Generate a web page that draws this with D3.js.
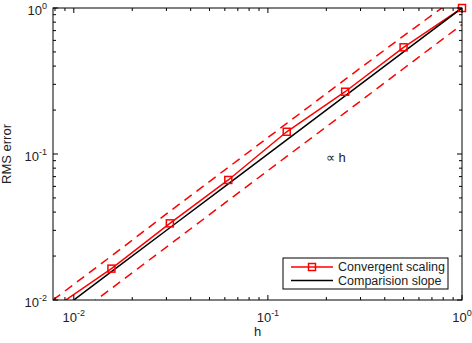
<!DOCTYPE html>
<html>
<head>
<meta charset="utf-8">
<script src="https://cdn.jsdelivr.net/npm/d3@7"></script>
<style>
  body { margin: 0; background: #fff; }
  text { font-family: "Liberation Sans", Arial, Helvetica, sans-serif; }
</style>
</head>
<body>
<div id="chart"></div>
<script>
// grid spacing h and measured values
const hValues = [1/128, 1/64, 1/32, 1/16, 1/8, 1/4, 1/2, 1];
const rmsError = [0.0087, 0.0164, 0.0335, 0.0664, 0.142, 0.267, 0.538, 1.0];
const upperBound = [0.0100, 0.0200, 0.0405, 0.081, 0.162, 0.324, 0.645, 1.26];
const lowerBound = [0.0060, 0.0120, 0.0240, 0.0481, 0.0962, 0.192, 0.385, 0.77];
const slopeRef = [1/128, 1/64, 1/32, 1/16, 1/8, 1/4, 1/2, 1];
const markerIdx = [1, 2, 3, 4, 5, 6, 7];
const decadeTicks = [0.01, 0.1, 1];
const decadeExp = ["-2", "-1", "0"];
const legendLabels = ["Convergent scaling", "Comparision slope"];

const W = 472, H = 343;
const margin = { top: 8, right: 10, bottom: 43, left: 53 };
const iw = W - margin.left - margin.right, ih = H - margin.top - margin.bottom;

const svg = d3.select("#chart").append("svg").attr("width", W).attr("height", H);
svg.append("defs").append("clipPath").attr("id", "clip")
  .append("rect").attr("width", iw).attr("height", ih);
const g = svg.append("g").attr("transform", `translate(${margin.left},${margin.top})`);

const x = d3.scaleLog().domain([1/128, 1]).range([0, iw]);
const y = d3.scaleLog().domain([0.01, 1]).range([ih, 0]);

const line = d3.line().x(d => x(d[0])).y(d => y(d[1]));
const plot = g.append("g").attr("clip-path", "url(#clip)");

const zipped = arr => hValues.map((h, i) => [h, arr[i]]);

plot.append("path").attr("d", line(zipped(upperBound)))
  .attr("fill", "none").attr("stroke", "#ff0000").attr("stroke-width", 1.5).attr("stroke-dasharray", "9,6");
plot.append("path").attr("d", line(zipped(lowerBound)))
  .attr("fill", "none").attr("stroke", "#ff0000").attr("stroke-width", 1.5).attr("stroke-dasharray", "9,6");
plot.append("path").attr("d", line(zipped(rmsError)))
  .attr("fill", "none").attr("stroke", "#ff0000").attr("stroke-width", 1.5);
plot.append("path").attr("d", line(zipped(slopeRef)))
  .attr("fill", "none").attr("stroke", "#000").attr("stroke-width", 1.5);

g.selectAll(".mk").data(markerIdx).join("rect").attr("class", "mk")
  .attr("x", i => x(hValues[i]) - 3.5).attr("y", i => y(rmsError[i]) - 3.5)
  .attr("width", 7).attr("height", 7)
  .attr("fill", "none").attr("stroke", "#ff0000").attr("stroke-width", 1.5);

// ticks, MATLAB style: inward on all four sides
function minorTicks(scale) {
  const [a, b] = scale.domain();
  const out = [];
  for (let e = -3; e <= 0; e++) {
    for (let m = 1; m <= 9; m++) {
      const v = m * Math.pow(10, e);
      if (v >= a * 0.999 && v <= b * 1.001) out.push({ v, major: m === 1 });
    }
  }
  return out;
}
const tk = g.append("g").attr("stroke", "#000").attr("stroke-width", 1);
minorTicks(x).forEach(t => {
  const L = t.major ? 5 : 3, px = x(t.v);
  tk.append("line").attr("x1", px).attr("x2", px).attr("y1", ih).attr("y2", ih - L);
  tk.append("line").attr("x1", px).attr("x2", px).attr("y1", 0).attr("y2", L);
});
minorTicks(y).forEach(t => {
  const L = t.major ? 5 : 3, py = y(t.v);
  tk.append("line").attr("x1", 0).attr("x2", L).attr("y1", py).attr("y2", py);
  tk.append("line").attr("x1", iw).attr("x2", iw - L).attr("y1", py).attr("y2", py);
});
g.append("rect").attr("width", iw).attr("height", ih)
  .attr("fill", "none").attr("stroke", "#000").attr("stroke-width", 1);

// tick labels 10^k
decadeTicks.forEach((v, i) => {
  const tx = g.append("text").attr("x", x(v)).attr("y", ih + 22)
    .attr("text-anchor", "middle").attr("font-size", 13).attr("fill", "#222");
  tx.append("tspan").text("10");
  tx.append("tspan").attr("dy", -6).attr("font-size", 9).text(decadeExp[i]);

  const ty = g.append("text").attr("x", -6).attr("y", y(v) + 7)
    .attr("text-anchor", "end").attr("font-size", 13).attr("fill", "#222");
  ty.append("tspan").text("10");
  ty.append("tspan").attr("dy", -6).attr("font-size", 9).text(decadeExp[i]);
});

// axis labels
g.append("text").attr("x", iw / 2).attr("y", ih + 36)
  .attr("text-anchor", "middle").attr("font-size", 13).attr("fill", "#222").text("h");
g.append("text").attr("transform", `translate(${-42},${ih / 2}) rotate(-90)`)
  .attr("text-anchor", "middle").attr("font-size", 13).attr("fill", "#222").text("RMS error");

// annotation
g.append("text").attr("x", 273).attr("y", 154).attr("font-size", 13).attr("fill", "#222").text("\u221D h");

// legend
const lg = g.append("g").attr("transform", `translate(${230},${250})`);
lg.append("rect").attr("width", 165).attr("height", 31)
  .attr("fill", "#fff").attr("stroke", "#000").attr("stroke-width", 1);
lg.append("line").attr("x1", 8).attr("x2", 50).attr("y1", 9).attr("y2", 9)
  .attr("stroke", "#ff0000").attr("stroke-width", 1.5);
lg.append("rect").attr("x", 25.5).attr("y", 5.5).attr("width", 7).attr("height", 7)
  .attr("fill", "none").attr("stroke", "#ff0000").attr("stroke-width", 1.5);
lg.append("line").attr("x1", 8).attr("x2", 50).attr("y1", 22.5).attr("y2", 22.5)
  .attr("stroke", "#000").attr("stroke-width", 1.5);
legendLabels.forEach((t, i) => {
  lg.append("text").attr("x", 55).attr("y", 13 + i * 13.5)
    .attr("font-size", 12.5).attr("fill", "#222").text(t);
});
</script>
</body>
</html>
